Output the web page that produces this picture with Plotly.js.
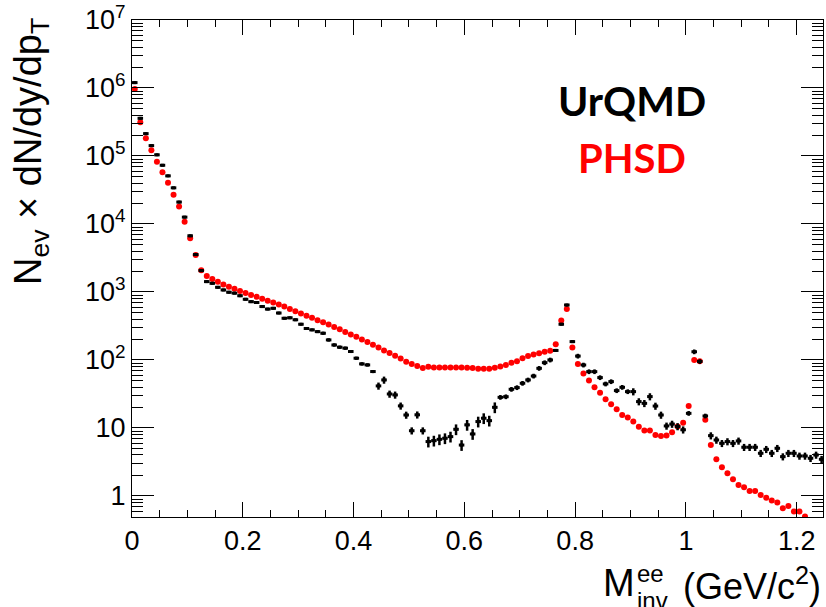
<!DOCTYPE html>
<html>
<head>
<meta charset="utf-8">
<script src="https://cdn.plot.ly/plotly-3.0.1.min.js"></script>
<style>html,body{margin:0;padding:0;background:#fff;}#chart{width:826px;height:607px;}</style>
</head>
<body>
<div id="chart"></div>
<script>
// Bin centres of invariant mass (GeV/c^2)
const massUrQMD = [0.005,0.015,0.025,0.035,0.045,0.055,0.065,0.075,0.085,0.095,
0.105,0.115,0.125,0.135,0.145,0.155,0.165,0.175,0.185,0.195,
0.205,0.215,0.225,0.235,0.245,0.255,0.265,0.275,0.285,0.295,
0.305,0.315,0.325,0.335,0.345,0.355,0.365,0.375,0.385,0.395,
0.405,0.415,0.425,0.435,0.445,0.455,0.465,0.475,0.485,0.495,
0.505,0.515,0.525,0.535,0.545,0.555,0.565,0.575,0.585,0.595,
0.605,0.615,0.625,0.635,0.645,0.655,0.665,0.675,0.685,0.695,
0.705,0.715,0.725,0.735,0.745,0.755,0.765,0.775,0.785,0.795,
0.805,0.815,0.825,0.835,0.845,0.855,0.865,0.875,0.885,0.895,
0.905,0.915,0.925,0.935,0.945,0.955,0.965,0.975,0.985,0.995,
1.005,1.015,1.025,1.035,1.045,1.055,1.065,1.075,1.085,1.095,
1.105,1.115,1.125,1.135,1.145,1.155,1.165,1.175,1.185,1.195,
1.205,1.215,1.225,1.235,1.245];

const urqmd = [1.2e6,3.58e5,2.13e5,1.42e5,1.04e5,7.3e4,5.1e4,3.4e4,2.1e4,1.26e4,
6700,3550,2060,1420,1340,1170,1070,990,960,880,
780,720,700,610,560,575,490,410,417,390,
335,290,277,261,247,197,166,154,149,133,
106,87.5,84.5,67.5,41.5,50.8,31.6,30.6,21.1,15.5,
9.1,15.6,9.1,6.3,6.5,6.8,7.05,7.45,9.55,5.6,
11.1,8.15,12.4,13.9,12.8,20.1,28.2,28.8,37,39.2,
45.4,50.8,58,75.3,91.2,100,138,335,643,186,
114,84.3,67.3,67.3,55,44.4,48,35.4,39.6,34.2,
34.2,24.4,23,28.9,21,15.5,10.7,11.4,10.5,9.4,
16.4,132,95,15,7.7,6.65,5.94,6.3,5.94,6.44,
5.2,5.2,5.2,4.24,4.85,4.24,5.02,3.78,4.24,4.24,
3.87,3.87,3.58,4.0,3.46];

// relative statistical error of UrQMD points, percent
const urqmdErrPct = [2,2,2,2,2,2,2,2,2,2,
2,2,2,2,2,2,2,2,2,2,
2,2,2,2,2,2,2,2,2,2,
2,2,2,2,5,5,5,5,5,5,
5,5,5,5,12,12,12,12,12,12,
12,12,12,18,18,18,18,18,18,18,
18,18,18,18,18,18,8,8,8,8,
8,8,8,8,8,8,3,3,3,3,
8,8,8,8,8,8,8,8,8,8,
12,12,12,12,12,12,12,12,12,12,
8,8,8,8,12,12,12,12,12,12,
12,12,12,12,12,12,12,12,12,12,
12,12,12,12,12];

const massPHSD = massUrQMD.slice(0, 122);
const phsd = [9.7e5,3.13e5,1.82e5,1.21e5,8.2e4,5.75e4,4.05e4,2.7e4,1.8e4,1.08e4,
6170,3500,2090,1720,1550,1410,1290,1190,1110,1035,
966,902,851,794,741,700,653,610,562,519,
484,447,417,385,359,331,305,282,257,237,
219,200,184,168,153,138,126,115,105,94.4,
87.1,81.3,75.9,79.4,77.6,77.6,77.6,77.6,77.6,77.6,
76.7,75.9,74.5,74.1,74.5,76.7,79.8,84.3,91.2,95.5,
106,114,120,125,132,137,170,380,562,153,
87.3,63.1,49.7,39.8,33,26.4,22.3,18.8,15.5,14.2,
12.4,10.4,9.14,9.14,7.89,7.62,7.76,8.61,10.5,11.9,
21,100,95.5,13.2,5.62,3.46,2.64,2.15,1.76,1.45,
1.34,1.18,1.18,1.035,0.944,0.853,0.798,0.659,0.713,0.589,
0.589,0.50];

const xTickVals = [0,0.2,0.4,0.6,0.8,1.0,1.2];
const xTickText = ['0','0.2','0.4','0.6','0.8','1','1.2'];
const yTickVals = [1,10,100,1e3,1e4,1e5,1e6,1e7];
const yTickText = ['1','10','10<sup>2</sup>','10<sup>3</sup>','10<sup>4</sup>','10<sup>5</sup>','10<sup>6</sup>','10<sup>7</sup>'];

// minor tick positions
const xMinor = [];
for (let i = 0; i <= 25; i++) xMinor.push(i * 0.05);
const yMinor = [];
for (let d = -1; d <= 6; d++) for (let k = 2; k <= 9; k++) yMinor.push(k * Math.pow(10, d));

const urqmdErr = urqmd.map((v, i) => v * urqmdErrPct[i] / 100);

const traces = [
  {
    x: massPHSD, y: phsd, type: 'scatter', mode: 'markers', name: 'PHSD',
    marker: {color: '#ff0000', size: 6, symbol: 'circle', line: {width: 0}},
    cliponaxis: true
  },
  {
    x: massUrQMD, y: urqmd, type: 'scatter', mode: 'markers', name: 'UrQMD',
    marker: {color: '#000000', size: 3, symbol: 'square', line: {width: 0}},
    error_x: {type: 'constant', value: 0.005, width: 0, thickness: 3, color: '#000000'},
    error_y: {type: 'data', array: urqmdErr, width: 0, thickness: 2.5, color: '#000000'},
    cliponaxis: true
  }
];

const FONT = 'Liberation Sans, Arial, sans-serif';
const tickFont = {family: FONT, size: 27, color: '#000'};
const PH = 497, PT = 20, PL = 132, PW = 691;
const px = x => (x - PL) / PW;
const py = y => (PT + PH - y) / PH;

const layout = {
  width: 826, height: 607,
  margin: {l: 132, r: 3, t: 20, b: 90},
  paper_bgcolor: '#fff', plot_bgcolor: '#fff',
  showlegend: false,
  xaxis: {
    range: [0, 1.2475], tickmode: 'array', tickvals: xTickVals, ticktext: xTickText,
    ticks: 'inside', ticklen: 15, tickwidth: 1, tickcolor: '#000',
    showline: true, linecolor: '#000', linewidth: 1, mirror: 'ticks',
    showgrid: false, zeroline: false, tickfont: tickFont,
    minor: {tickmode: 'array', tickvals: xMinor, ticks: 'inside', ticklen: 7, tickcolor: '#000', tickwidth: 1, showgrid: false}
  },
  yaxis: {
    type: 'log', range: [-0.31, 7], tickmode: 'array', tickvals: yTickVals, ticktext: yTickText,
    ticks: 'inside', ticklen: 22, tickwidth: 1, tickcolor: '#000',
    showline: true, linecolor: '#000', linewidth: 1, mirror: 'ticks',
    showgrid: false, zeroline: false, tickfont: tickFont,
    minor: {tickmode: 'array', tickvals: yMinor, ticks: 'inside', ticklen: 11, tickcolor: '#000', tickwidth: 1, showgrid: false}
  },
  annotations: [
    // x-axis title, ROOT style: M with stacked ee / inv, then (GeV/c^2)
    {text: 'M', xref: 'paper', yref: 'paper', x: px(637), y: py(583),
     xanchor: 'right', yanchor: 'middle', showarrow: false,
     font: {family: FONT, size: 38, color: '#000'}},
    {text: 'ee', xref: 'paper', yref: 'paper', x: px(635), y: py(573),
     xanchor: 'left', yanchor: 'middle', showarrow: false,
     font: {family: FONT, size: 24, color: '#000'}},
    {text: 'inv', xref: 'paper', yref: 'paper', x: px(635), y: py(600),
     xanchor: 'left', yanchor: 'middle', showarrow: false,
     font: {family: FONT, size: 24, color: '#000'}},
    {text: '(GeV/c<sup>2</sup>)', xref: 'paper', yref: 'paper', x: px(823), y: py(584),
     xanchor: 'right', yanchor: 'middle', showarrow: false,
     font: {family: FONT, size: 36, color: '#000'}},
    // y-axis title
    {text: 'N<sub>ev</sub> \u00d7 dN/dy/dp<sub>T</sub>', xref: 'paper', yref: 'paper',
     x: px(31), y: py(152), xanchor: 'center', yanchor: 'middle', textangle: -90, showarrow: false,
     font: {family: FONT, size: 38, color: '#000'}},
    {text: '<b>UrQMD</b>', xref: 'paper', yref: 'paper', x: px(632), y: py(100),
     xanchor: 'center', yanchor: 'middle', showarrow: false,
     font: {family: 'Lato, sans-serif', size: 41, color: '#000'}},
    {text: '<b>PHSD</b>', xref: 'paper', yref: 'paper', x: px(632), y: py(158),
     xanchor: 'center', yanchor: 'middle', showarrow: false,
     font: {family: 'Lato, sans-serif', size: 40, color: '#ff0000'}}
  ]
};

Plotly.newPlot('chart', traces, layout, {displayModeBar: false, staticPlot: true});
</script>
</body>
</html>
